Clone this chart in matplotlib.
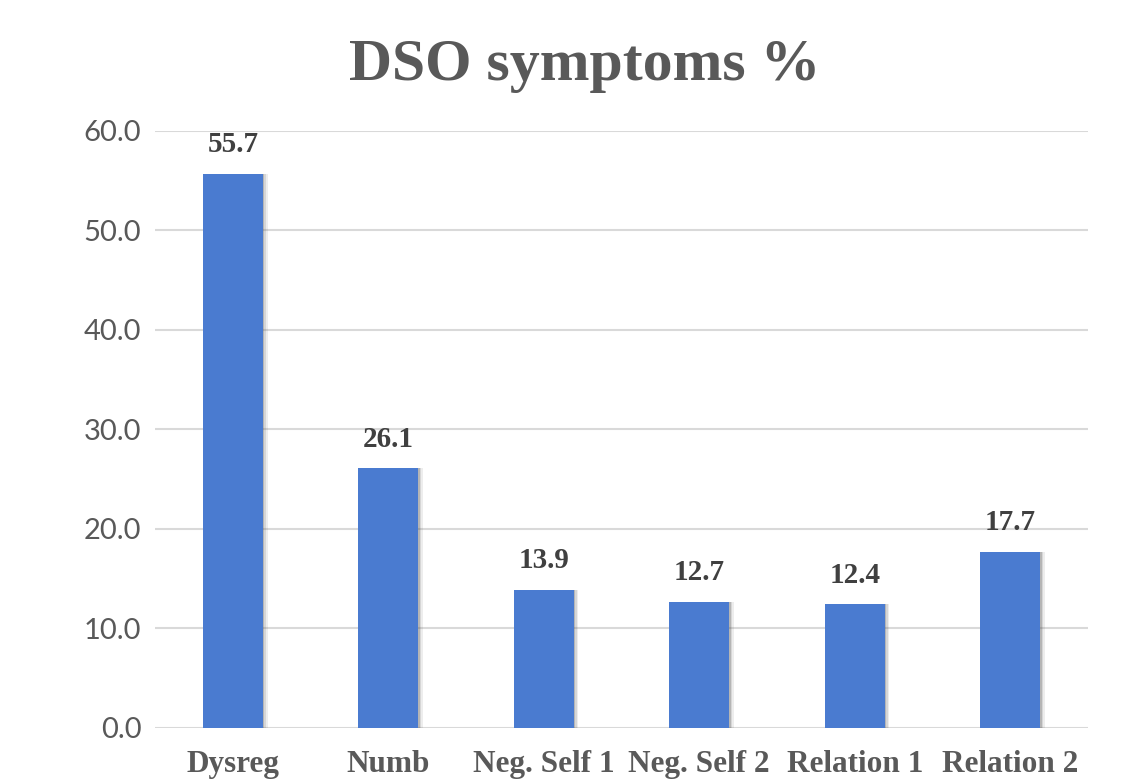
import matplotlib.pyplot as plt
from matplotlib.ticker import FormatStrFormatter

# ------------------------------
# DATA
# ------------------------------
categories = ['Dysreg', 'Numb', 'Neg. Self 1', 'Neg. Self 2', 'Relation 1', 'Relation 2']
values = [55.7, 26.1, 13.9, 12.7, 12.4, 17.7]
yticks = [0, 10, 20, 30, 40, 50, 60]

bar_color = '#4A7BD0'
serif = ['Liberation Serif', 'DejaVu Serif']

fig = plt.figure(figsize=(11.25, 7.81), dpi=100)
ax = fig.add_axes([0.138, 0.068, 0.829, 0.7645])

x = list(range(len(categories)))

# soft shadow behind the bars
for off, a in [(0.030, 0.10), (0.020, 0.15), (0.010, 0.25)]:
    ax.bar([i + off for i in x], values, width=0.385, color='#555555', alpha=a,
           zorder=2, linewidth=0)
ax.bar(x, values, width=0.385, color=bar_color, zorder=3, linewidth=0)

for i, v in zip(x, values):
    ax.annotate(f'{v:.1f}', (i, v), xytext=(0, 11), textcoords='offset points',
                ha='center', va='bottom', fontsize=21, fontweight='bold',
                family=serif, color='#404040')

ax.set_xlim(-0.5, len(categories) - 0.5)
ax.set_ylim(0, 60)
ax.set_yticks(yticks)
ax.yaxis.set_major_formatter(FormatStrFormatter('%.1f'))
ax.set_xticks(x)
ax.set_xticklabels(categories, family=serif, fontweight='bold', fontsize=22.5,
                   color='#595959')
for lab in ax.get_yticklabels():
    lab.set_family(['Lato', 'DejaVu Sans'])
    lab.set_fontsize(21)
    lab.set_color('#595959')

ax.tick_params(axis='both', length=0)
ax.tick_params(axis='y', pad=10)
ax.tick_params(axis='x', pad=16)
ax.grid(axis='y', color='#D9D9D9', linewidth=1.5, zorder=0)
ax.set_axisbelow(True)
for s in ax.spines.values():
    s.set_visible(False)

fig.text(0.52, 0.915, 'DSO symptoms %', ha='center', va='center', fontsize=43,
         fontweight='bold', family=serif, color='#595959')

fig.savefig('out.png', dpi=100)
